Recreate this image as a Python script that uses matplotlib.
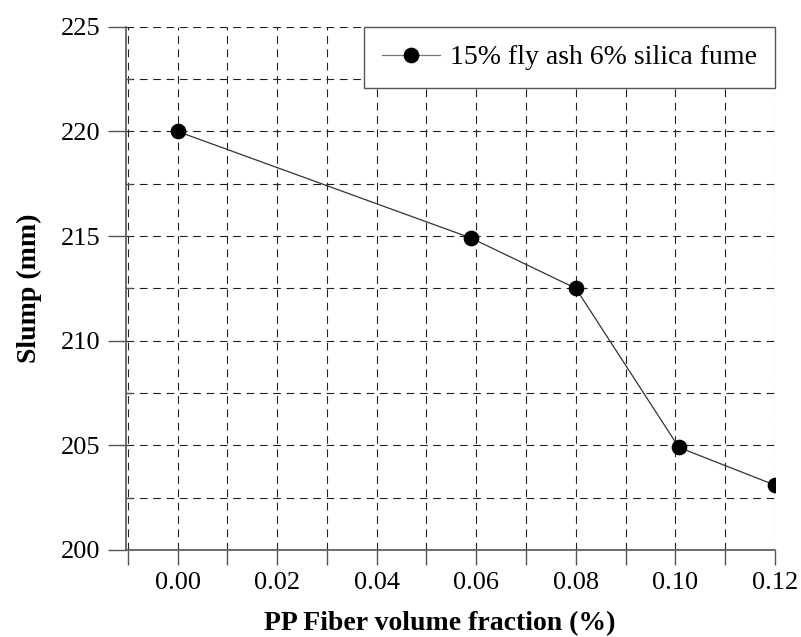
"""Slump vs PP fiber volume fraction — line chart with dashed grid."""

import matplotlib
matplotlib.use('Agg')
import matplotlib.pyplot as plt
from matplotlib.ticker import MultipleLocator, FuncFormatter

# Data
fiber_fraction = [0.0, 0.059, 0.08, 0.1007, 0.12]
slump_mm = [220.0, 214.9, 212.5, 204.9, 203.1]
series_label = "15% fly ash 6% silica fume"

plt.rcParams['font.family'] = ['Liberation Serif', 'DejaVu Serif']

fig = plt.figure(figsize=(8.01, 6.37), dpi=100)
ax = fig.add_axes([0.157, 0.1366, 0.8105, 0.8214])

ax.plot(fiber_fraction, slump_mm, color='#333333', linewidth=0.9,
        marker='o', markersize=10.3, markerfacecolor='black',
        markeredgecolor='black', label=series_label, zorder=3)

ax.set_xlim(-0.0104, 0.12)
ax.set_ylim(200, 225)

# ticks: x every 0.01 (labels every 0.02), y every 5 with grid every 2.5
ax.xaxis.set_major_locator(MultipleLocator(0.01))
ax.xaxis.set_major_formatter(FuncFormatter(
    lambda v, p: f"{v:.2f}" if round(v / 0.01) % 2 == 0 else ""))
ax.yaxis.set_major_locator(MultipleLocator(5))
ax.yaxis.set_minor_locator(MultipleLocator(2.5))

ax.tick_params(axis='x', which='major', direction='out', length=11,
               width=1.0, color='#555555', labelsize=19, pad=5)
ax.tick_params(axis='y', which='major', direction='out', length=13,
               width=1.0, color='#555555', labelsize=19, pad=5)
ax.tick_params(axis='y', which='minor', direction='in', length=4,
               width=1.0, color='#555555')

ax.grid(True, which='both', linestyle=(0, (7, 5)), linewidth=0.8,
        color='#222222', zorder=0)
ax.set_axisbelow(True)

for side in ('top', 'right'):
    ax.spines[side].set_visible(False)
for side in ('left', 'bottom'):
    ax.spines[side].set_color('#555555')
    ax.spines[side].set_linewidth(1.2)

ax.set_xlabel("PP Fiber volume fraction (%)", fontsize=20, fontweight='bold')
ax.xaxis.set_label_coords(0.484, -0.117)
ax.xaxis.label.set_verticalalignment('top')
ax.set_ylabel("Slump (mm)", fontsize=20, fontweight='bold', labelpad=14)

leg = ax.legend(loc='upper right', bbox_to_anchor=(1.0, 1.0), borderaxespad=0,
                fontsize=20, frameon=True, fancybox=False, framealpha=1,
                edgecolor='#555555', handlelength=2.1, handletextpad=0.36,
                borderpad=0.65)
leg.get_frame().set_linewidth(1.0)
leg.get_lines()[0].set_color('#777777')

fig.savefig("out.png", dpi=100)
plt.close(fig)
